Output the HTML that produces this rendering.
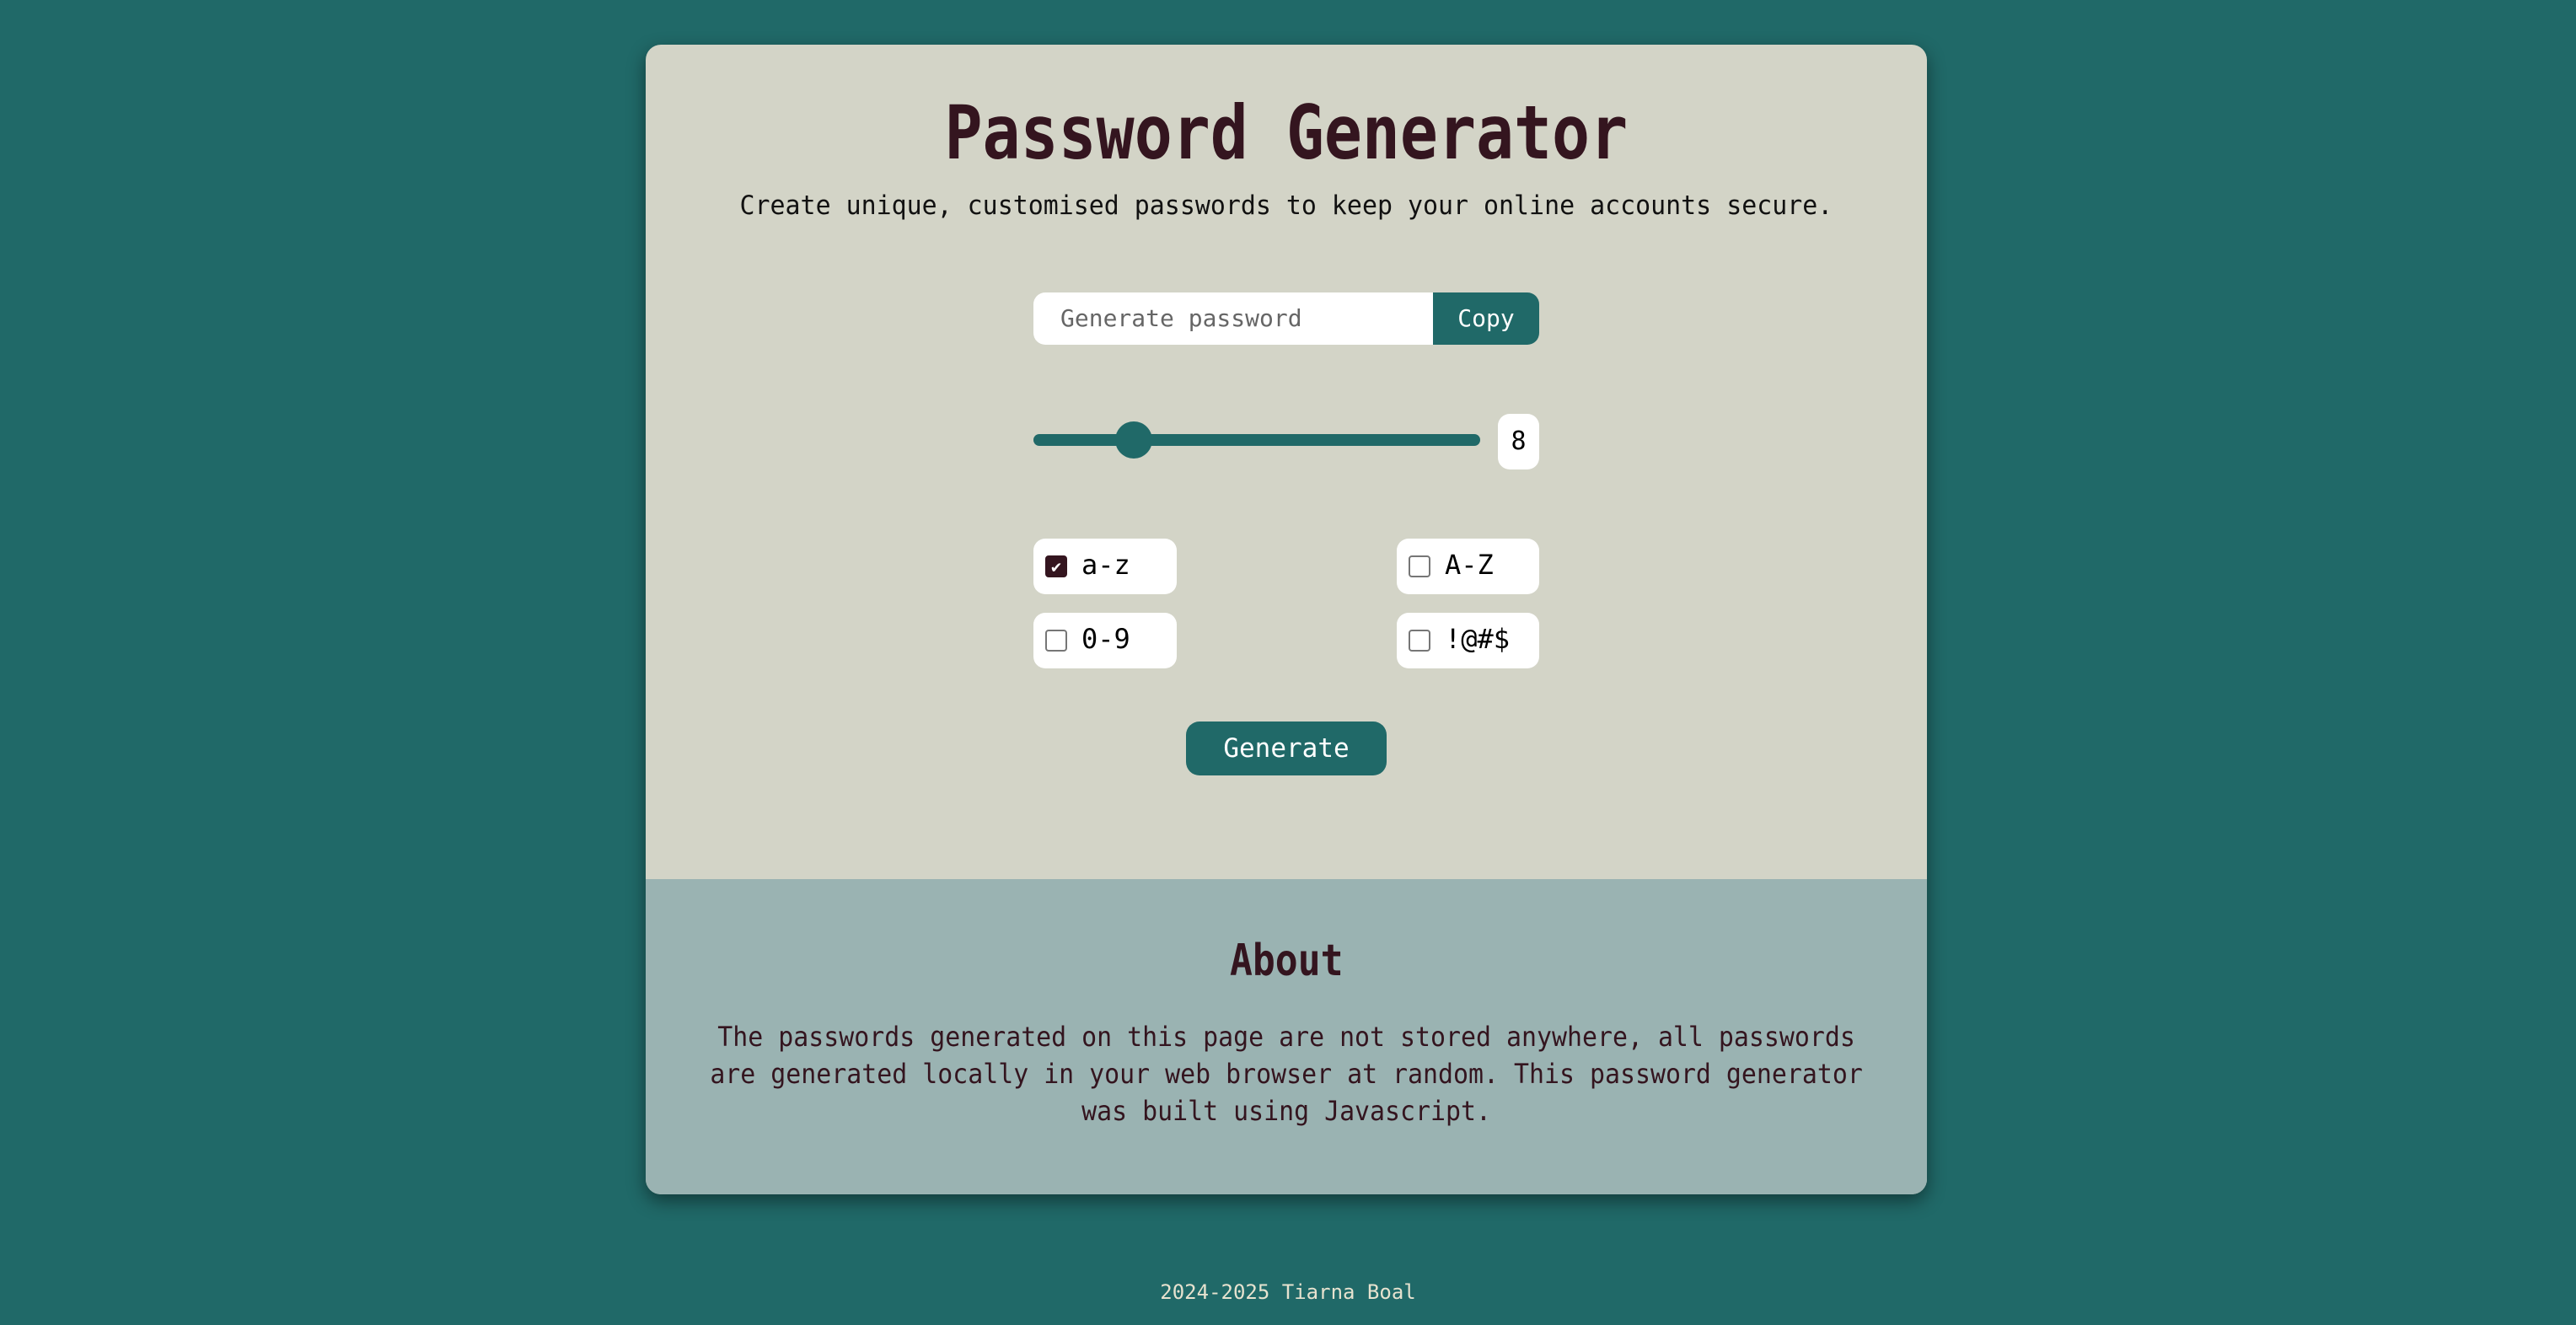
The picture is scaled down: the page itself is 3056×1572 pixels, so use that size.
<!DOCTYPE html>
<html><head><style>
html,body{margin:0;padding:0;}
body{width:3056px;height:1572px;background:#206968;position:relative;overflow:hidden;font-family:"DejaVu Sans Mono","Liberation Mono",monospace;}
.card{position:absolute;left:766px;top:53px;width:1520px;height:1364px;background:#d3d4c7;border-radius:18px;box-shadow:0 8px 22px rgba(0,0,0,0.45);overflow:hidden;}
.about{position:absolute;left:0;top:990px;width:1520px;height:374px;background:#9ab3b2;}
.c{position:absolute;left:0;width:100%;text-align:center;white-space:nowrap;}
.sx{display:inline-block;transform:scaleX(0.86);}
.t{color:#34151f;}
.box{position:absolute;background:#fff;border-radius:14px;}
.cb{position:absolute;width:26px;height:26px;border:2px solid #767676;border-radius:4px;background:#fff;box-sizing:border-box;}
.lab{position:absolute;font-size:32px;color:#000;}
</style></head><body>
<div class="card">
 <div class="c t" style="top:50px;font-size:88px;font-weight:bold;line-height:110px;"><span class="sx" style="transform:scaleX(0.85)">Password Generator</span></div>
 <div class="c" style="top:170px;font-size:31px;line-height:42px;color:#111;"><span class="sx" style="transform:scaleX(0.965)">Create unique, customised passwords to keep your online accounts secure.</span></div>
 <div class="box" style="left:460px;top:294px;border-radius:14px 0 0 14px;width:474px;height:62px;"></div>
 <div style="position:absolute;left:492px;top:294px;line-height:62px;font-size:28px;color:#666;">Generate password</div>
 <div style="position:absolute;left:934px;top:294px;width:126px;height:62px;background:#206968;border-radius:0 14px 14px 0;color:#fff;font-size:28px;line-height:62px;text-align:center;">Copy</div>
 <div style="position:absolute;left:460px;top:462px;width:530px;height:14px;background:#206968;border-radius:7px;"></div>
 <div style="position:absolute;left:557px;top:447px;width:44px;height:44px;background:#206968;border-radius:50%;"></div>
 <div class="box" style="left:1011px;top:438px;width:49px;height:66px;font-size:30px;line-height:66px;text-align:center;">8</div>
 <div class="box" style="left:460px;top:586px;width:170px;height:66px;"></div>
 <div class="box" style="left:891px;top:586px;width:169px;height:66px;"></div>
 <div class="box" style="left:460px;top:674px;width:170px;height:66px;"></div>
 <div class="box" style="left:891px;top:674px;width:169px;height:66px;"></div>
 <div class="cb" style="left:474px;top:606px;background:#34151f;border-color:#34151f;color:#fff;font-size:20px;line-height:22px;text-align:center;">✔</div>
 <div class="lab" style="left:517px;top:598px;">a-z</div>
 <div class="cb" style="left:905px;top:606px;"></div>
 <div class="lab" style="left:948px;top:598px;">A-Z</div>
 <div class="cb" style="left:474px;top:694px;"></div>
 <div class="lab" style="left:517px;top:686px;">0-9</div>
 <div class="cb" style="left:905px;top:694px;"></div>
 <div class="lab" style="left:948px;top:686px;">!@#$</div>
 <div style="position:absolute;left:641px;top:803px;width:238px;height:64px;background:#206968;border-radius:16px;color:#fff;font-size:31px;line-height:64px;text-align:center;">Generate</div>
 <div class="about">
  <div class="c t" style="top:62px;font-size:52px;font-weight:bold;line-height:70px;"><span class="sx">About</span></div>
  <div class="c t" style="top:165px;font-size:32px;line-height:44px;white-space:normal;"><span class="sx" style="transform:scaleX(0.934)">The passwords generated on this page are not stored anywhere, all passwords<br>are generated locally in your web browser at random. This password generator<br>was built using Javascript.</span></div>
 </div>
</div>
<div class="c" style="top:1518px;font-size:24px;line-height:30px;color:#e6e2cf;">2024-2025 Tiarna Boal</div>
</body></html>
